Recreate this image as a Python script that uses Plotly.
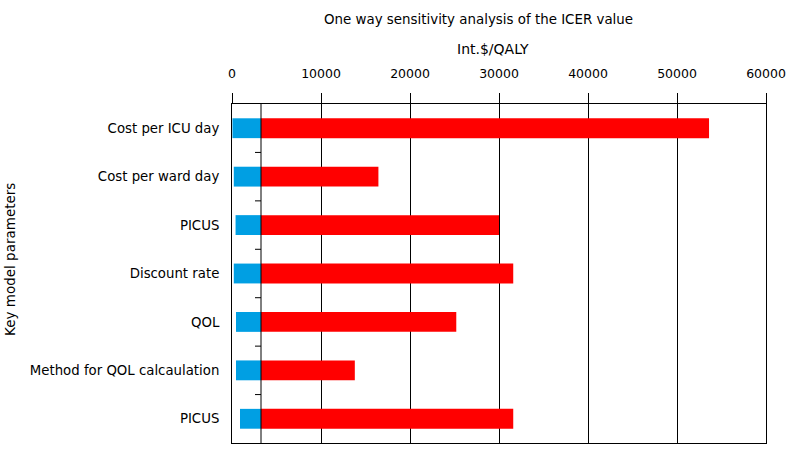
import plotly.graph_objects as go

# Data
parameters = ["Cost per ICU day", "Cost per ward day", "PICUS", "Discount rate",
              "QOL", "Method for QOL calcaulation", "PICUS"]
base_icer = 3260
low_values = [50, 200, 400, 200, 450, 450, 900]
high_values = [53600, 16450, 30000, 31600, 25200, 13800, 31600]
x_ticks = [0, 10000, 20000, 30000, 40000, 50000, 60000]

XMAX = 60000
pos = list(range(len(parameters)))
FONT = "DejaVu Sans"

L, R, T, B = 232, 27, 104, 13
W, H = 793, 456
PW, PH = W - L - R, H - T - B

fig = go.Figure()
fig.add_trace(go.Bar(
    y=pos, x=[base_icer - v for v in low_values], base=low_values,
    orientation="h", marker=dict(color="#009FE3", line=dict(width=0)),
    width=0.41, showlegend=False, hoverinfo="skip"))
fig.add_trace(go.Bar(
    y=pos, x=[v - base_icer for v in high_values], base=[base_icer] * len(high_values),
    orientation="h", marker=dict(color="#FF0000", line=dict(width=0)),
    width=0.41, showlegend=False, hoverinfo="skip"))

shapes = [dict(type="line", xref="x", yref="paper", x0=base_icer, x1=base_icer,
               y0=0, y1=1, line=dict(color="black", width=1), layer="above")]
for i in pos[:-1]:
    shapes.append(dict(type="line", xref="x", yref="y", xsizemode="pixel",
                       xanchor=base_icer, x0=-6, x1=0, y0=i + 0.5, y1=i + 0.5,
                       line=dict(color="black", width=1), layer="above"))

yrange = [len(parameters) - 0.5, -0.5]
fig.update_layout(
    width=W, height=H,
    margin=dict(l=L, r=R, t=T, b=B),
    paper_bgcolor="white", plot_bgcolor="white",
    barmode="overlay",
    font=dict(family=FONT, size=12, color="black"),
    xaxis=dict(side="top", range=[0, XMAX], tickvals=x_ticks,
               ticktext=[str(t) for t in x_ticks],
               showgrid=True, gridcolor="black", gridwidth=1,
               ticks="outside", ticklen=10, tickcolor="black", tickwidth=1,
               showline=True, linecolor="black", linewidth=1, mirror=True,
               zeroline=False, tickfont=dict(size=12.5), ticklabelstandoff=10,
               automargin=False),
    yaxis=dict(range=yrange, tickvals=pos, ticktext=parameters,
               showgrid=False, zeroline=False, ticks="",
               showline=True, linecolor="black", linewidth=1, mirror=True,
               tickfont=dict(size=13.3), ticklabelstandoff=9, automargin=False),
    shapes=shapes,
    annotations=[
        dict(text="One way sensitivity analysis of the ICER value", xref="paper", yref="paper",
             x=(478 - L) / PW, y=1 + (T - 19) / PH, xanchor="center", yanchor="middle",
             showarrow=False, font=dict(size=13.4)),
        dict(text="Int.$/QALY", xref="paper", yref="paper",
             x=(493 - L) / PW, y=1 + (T - 49) / PH, xanchor="center", yanchor="middle",
             showarrow=False, font=dict(size=14)),
        dict(text="Key model parameters", xref="paper", yref="paper",
             x=(10 - L) / PW, y=1 - (260 - T) / PH, xanchor="center", yanchor="middle",
             textangle=-90, showarrow=False, font=dict(size=13.5)),
    ],
)

fig.write_html("out.html", config={"displayModeBar": False},
               post_script="document.body.style.margin='0';document.body.style.overflow='hidden';")
